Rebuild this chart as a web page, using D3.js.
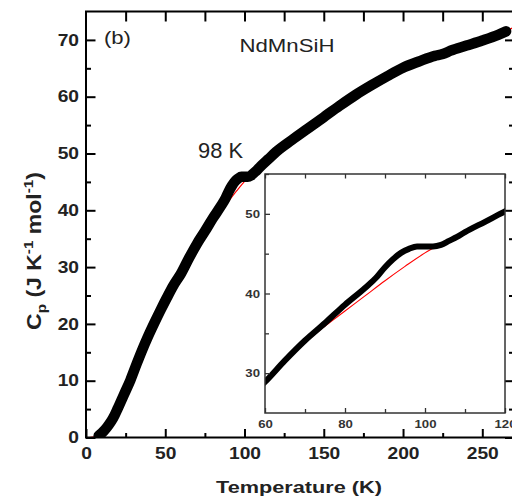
<!DOCTYPE html>
<html><head><meta charset="utf-8">
<script src="https://cdn.jsdelivr.net/npm/d3@7"></script>
<style>
html,body{margin:0;padding:0;background:#fff;}
svg{display:block;font-family:"Liberation Sans",Arial,sans-serif;}
</style></head>
<body>
<svg id="chart" width="512" height="502"></svg>
<script>
// ---- data ----
const tempMeas = [8,10,12,14,16,18,20,24,28,32,35,39,43,47,51,55,60,65,70,75,80,85,88,90,92,94,96,98,100,102,104,106,108,110,115,120,130,140,150,160,170,180,190,200,210,220,225,230,240,250,260,265];
const cpMeas   = [0.3,0.8,1.4,2.1,2.9,3.9,5.1,7.6,10.1,13.0,15.1,17.7,20.1,22.4,24.6,26.7,28.9,31.6,34.1,36.3,38.6,40.7,42.1,43.3,44.3,45.1,45.6,45.9,45.9,45.9,46.1,46.6,47.1,47.7,49.0,50.3,52.4,54.4,56.4,58.4,60.3,62.0,63.6,65.1,66.2,67.2,67.5,68.1,69.0,69.9,70.9,71.5];
const tempFit  = [2,4,6,8,12,16,20,28,35,43,51,60,65,70,75,80,85,90,95,100,105,110,115,120,130,140,150,160,170,180,190,200,210,220,230,240,250,260,265,270];
const cpFit    = [0,0.05,0.15,0.4,1.4,2.9,5.1,10.1,15.1,20.1,24.6,28.9,31.4,33.8,35.9,37.8,39.7,41.6,43.4,45.1,46.5,47.8,49.0,50.3,52.4,54.4,56.4,58.4,60.3,62.0,63.6,65.1,66.2,67.2,68.1,69.0,69.9,70.9,71.6,72.2];
const xTicksMain = [0,50,100,150,200,250];
const xMinorMain = [25,75,125,175,225];
const xTopMain   = [25,50,75,100,125,150,175,200,225,250];
const yTicksMain = [0,10,20,30,40,50,60,70];
const yMinorMain = [5,15,25,35,45,55,65];
const xTicksInset = [60,80,100,120];
const xMinorInset = [70,90,110];
const yTicksInset = [30,40,50];
const yMinorInset = [35,45,55];
const labelX = "Temperature (K)";
const sampleName = "NdMnSiH";
const panelTag = "(b)";
const transitionNote = "98 K";

const meas = tempMeas.map((t,i)=>({t, c: cpMeas[i]}));
const fit  = tempFit.map((t,i)=>({t, c: cpFit[i]}));

const svg = d3.select("#chart");
const x = d3.scaleLinear([0,270],[86,514]);
const y = d3.scaleLinear([0,75],[437.5,11.5]);
const xi = d3.scaleLinear([60,120],[265,505]);
const yi = d3.scaleLinear([25,55],[413,174]);

function stretchTexts(sel, sx, sy=1){
  sel.each(function(){
    const t = d3.select(this);
    const tx = +t.attr("x")||0, ty = +t.attr("y")||0;
    t.attr("x",null).attr("y",null).attr("transform",`translate(${tx},${ty}) scale(${sx},${sy})`);
  });
}
function fitWidth(t, target, sy=1){
  const w = t.node().getComputedTextLength();
  const tx = +t.attr("x")||0, ty = +t.attr("y")||0;
  t.attr("x",null).attr("y",null).attr("transform",`translate(${tx},${ty}) scale(${target/w},${sy})`);
}

const defs = svg.append("defs");
defs.append("clipPath").attr("id","clipMain").append("rect")
  .attr("x",86).attr("y",11.5).attr("width",428).attr("height",426);
defs.append("clipPath").attr("id","clipInset").append("rect")
  .attr("x",265).attr("y",174).attr("width",240).attr("height",239);

// ---- main plot data (fit underneath, measured on top) ----
const lineMain = d3.line().x(d=>x(d.t)).y(d=>y(d.c)).curve(d3.curveMonotoneX);
const gMain = svg.append("g").attr("clip-path","url(#clipMain)");
gMain.append("path").datum(fit).attr("d",lineMain)
  .attr("fill","none").attr("stroke","#ff0000").attr("stroke-width",1.2);
gMain.append("path").datum(meas).attr("d",lineMain)
  .attr("fill","none").attr("stroke","#000").attr("stroke-width",10.5)
  .attr("stroke-linejoin","round").attr("stroke-linecap","round");

// ---- main axes ----
function styleAxis(g, color, width){
  g.select(".domain").remove();
  g.selectAll("line").attr("stroke",color).attr("stroke-width",width);
}
const axB = svg.append("g").attr("transform","translate(0,437.5)")
  .call(d3.axisBottom(x).tickValues(xTicksMain).tickSizeInner(-8.5).tickSizeOuter(0).tickPadding(10).tickFormat(d3.format("d")));
styleAxis(axB,"#000",2);
axB.selectAll("text").attr("font-size",16).attr("font-weight","bold").attr("fill","#222");
stretchTexts(axB.selectAll("text"),1.2);
const axBm = svg.append("g").attr("transform","translate(0,437.5)")
  .call(d3.axisBottom(x).tickValues(xMinorMain).tickSizeInner(-4.5).tickSizeOuter(0).tickFormat(""));
styleAxis(axBm,"#000",2);
const axT = svg.append("g").attr("transform","translate(0,11.5)")
  .call(d3.axisTop(x).tickValues(xTopMain).tickSizeInner(-10).tickSizeOuter(0).tickFormat(""));
styleAxis(axT,"#000",2);
const axL = svg.append("g").attr("transform","translate(86,0)")
  .call(d3.axisLeft(y).tickValues(yTicksMain).tickSizeInner(-9.5).tickSizeOuter(0).tickPadding(7).tickFormat(d3.format("d")));
styleAxis(axL,"#000",2);
axL.selectAll("text").attr("font-size",16).attr("font-weight","bold").attr("fill","#222");
stretchTexts(axL.selectAll("text"),1.2);
const axLm = svg.append("g").attr("transform","translate(86,0)")
  .call(d3.axisLeft(y).tickValues(yMinorMain).tickSizeInner(-5).tickSizeOuter(0).tickFormat(""));
styleAxis(axLm,"#000",2);
const axR = svg.append("g").attr("transform","translate(514,0)")
  .call(d3.axisRight(y).tickValues(yTicksMain).tickSizeInner(-9).tickSizeOuter(0).tickFormat(""));
styleAxis(axR,"#000",2);
const axRm = svg.append("g").attr("transform","translate(514,0)")
  .call(d3.axisRight(y).tickValues(yMinorMain).tickSizeInner(-5).tickSizeOuter(0).tickFormat(""));
styleAxis(axRm,"#000",2);
svg.append("rect").attr("x",86).attr("y",11.5).attr("width",428).attr("height",426)
  .attr("fill","none").attr("stroke","#000").attr("stroke-width",2);

// ---- inset ----
svg.append("rect").attr("x",265).attr("y",174).attr("width",240).attr("height",239)
  .attr("fill","#fff");
const lineIn = d3.line().x(d=>xi(d.t)).y(d=>yi(d.c)).curve(d3.curveMonotoneX);
const gIn = svg.append("g").attr("clip-path","url(#clipInset)");
gIn.append("path").datum(fit.filter(d=>d.t>=55&&d.t<=130)).attr("d",lineIn)
  .attr("fill","none").attr("stroke","#ff0000").attr("stroke-width",1.1);
gIn.append("path").datum(meas.filter(d=>d.t>=55&&d.t<=130)).attr("d",lineIn)
  .attr("fill","none").attr("stroke","#000").attr("stroke-width",6)
  .attr("stroke-linejoin","round").attr("stroke-linecap","round");

const ic = "#333";
const iB = svg.append("g").attr("transform","translate(0,413)")
  .call(d3.axisBottom(xi).tickValues(xTicksInset).tickSizeInner(-5).tickSizeOuter(0).tickPadding(7).tickFormat(d3.format("d")));
styleAxis(iB,ic,1.3);
iB.selectAll("text").attr("font-size",11).attr("font-weight","bold").attr("fill",ic);
stretchTexts(iB.selectAll("text"),1.2);
const iBm = svg.append("g").attr("transform","translate(0,413)")
  .call(d3.axisBottom(xi).tickValues(xMinorInset).tickSizeInner(-4).tickSizeOuter(0).tickFormat(""));
styleAxis(iBm,ic,1.3);
const iT = svg.append("g").attr("transform","translate(0,174)")
  .call(d3.axisTop(xi).tickValues(xTicksInset.concat(xMinorInset)).tickSizeInner(-4.5).tickSizeOuter(0).tickFormat(""));
styleAxis(iT,ic,1.3);
const iL = svg.append("g").attr("transform","translate(265,0)")
  .call(d3.axisLeft(yi).tickValues(yTicksInset).tickSizeInner(-5).tickSizeOuter(0).tickPadding(5).tickFormat(d3.format("d")));
styleAxis(iL,ic,1.3);
iL.selectAll("text").attr("font-size",11).attr("font-weight","bold").attr("fill",ic);
stretchTexts(iL.selectAll("text"),1.2);
const iLm = svg.append("g").attr("transform","translate(265,0)")
  .call(d3.axisLeft(yi).tickValues(yMinorInset).tickSizeInner(-4).tickSizeOuter(0).tickFormat(""));
styleAxis(iLm,ic,1.3);
svg.append("rect").attr("x",265).attr("y",174).attr("width",240).attr("height",239)
  .attr("fill","none").attr("stroke",ic).attr("stroke-width",1.5);

// ---- texts ----
const tX = svg.append("text").attr("x",299).attr("y",492.5).attr("text-anchor","middle")
  .attr("font-size",17).attr("font-weight","bold").attr("fill","#222").text(labelX);
fitWidth(tX,166);

const yl = svg.append("text").attr("text-anchor","middle")
  .attr("font-size",18).attr("font-weight","bold").attr("fill","#222");
yl.append("tspan").text("C");
yl.append("tspan").attr("font-size",12).attr("dy",4).text("p");
yl.append("tspan").attr("dy",-4).text(" (J K");
yl.append("tspan").attr("font-size",12).attr("dy",-7).text("-1");
yl.append("tspan").attr("dy",7).text(" mol");
yl.append("tspan").attr("font-size",12).attr("dy",-7).text("-1");
yl.append("tspan").attr("dy",7).text(")");
{
  const w = yl.node().getComputedTextLength();
  yl.attr("transform",`translate(41,251) rotate(-90) scale(${158/w},1.13)`);
}

const tb = svg.append("text").attr("x",104).attr("y",43.5).attr("font-size",18).attr("fill","#222").text(panelTag);
fitWidth(tb,27);
const tn = svg.append("text").attr("x",239.5).attr("y",52).attr("font-size",19).attr("fill","#222").text(sampleName);
fitWidth(tn,95);
const tk = svg.append("text").attr("x",198).attr("y",158).attr("font-size",22).attr("fill","#222").text(transitionNote);
fitWidth(tk,45);
</script>
</body></html>
